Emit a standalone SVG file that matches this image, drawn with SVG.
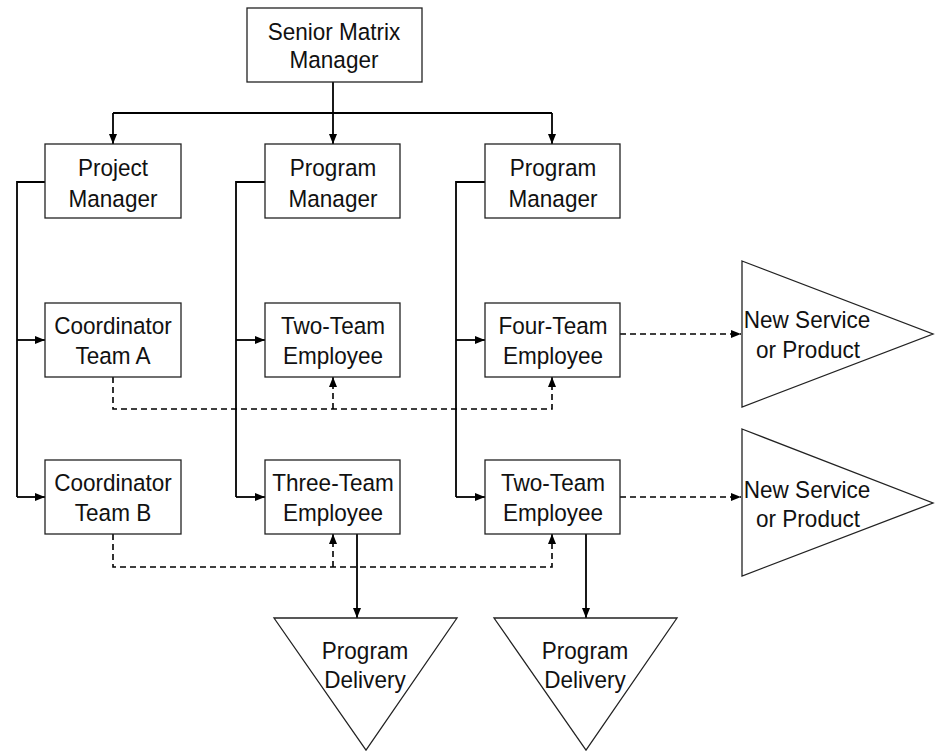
<svg xmlns="http://www.w3.org/2000/svg" width="939" height="752" viewBox="0 0 939 752">
  <style>
    .box { fill: #fff; stroke: #222; stroke-width: 1.3; }
    .tri { fill: #fff; stroke: #222; stroke-width: 1.3; }
    .lbl { font-family: "Liberation Sans", Arial, Helvetica, sans-serif; font-size: 24.5px; fill: #111; text-anchor: middle; }
    .solid { fill: none; stroke: #000; stroke-width: 1.8; }
    .dash { fill: none; stroke: #000; stroke-width: 1.6; stroke-dasharray: 6 4; }
  </style>
  <defs>
    <marker id="arrow" viewBox="0 0 10 8" refX="10" refY="4" markerWidth="10" markerHeight="8" markerUnits="userSpaceOnUse" orient="auto">
      <path d="M0,0 L10,4 L0,8 z" fill="#000"/>
    </marker>
  </defs>

  <!-- connectors -->
  <g id="connectors">
    <!-- senior manager to the three managers -->
    <path class="solid" d="M333,82 V113"/>
    <path class="solid" d="M113,113 H552"/>
    <path class="solid" d="M113,113 V144" marker-end="url(#arrow)"/>
    <path class="solid" d="M333,113 V144" marker-end="url(#arrow)"/>
    <path class="solid" d="M552,113 V144" marker-end="url(#arrow)"/>

    <!-- manager buses down to their reports -->
    <path class="solid" d="M45,182 H17 V497"/>
    <path class="solid" d="M17,340 H45" marker-end="url(#arrow)"/>
    <path class="solid" d="M17,497 H45" marker-end="url(#arrow)"/>

    <path class="solid" d="M265,182 H236 V497"/>
    <path class="solid" d="M236,340 H265" marker-end="url(#arrow)"/>
    <path class="solid" d="M236,497 H265" marker-end="url(#arrow)"/>

    <path class="solid" d="M485,182 H456 V497"/>
    <path class="solid" d="M456,340 H485" marker-end="url(#arrow)"/>
    <path class="solid" d="M456,497 H485" marker-end="url(#arrow)"/>

    <!-- coordinator team A links -->
    <path class="dash" d="M113,377 V409 H552 V377" marker-end="url(#arrow)"/>
    <path class="dash" d="M333,409 V377" marker-end="url(#arrow)"/>

    <!-- coordinator team B links -->
    <path class="dash" d="M113,534 V567 H552 V534" marker-end="url(#arrow)"/>
    <path class="dash" d="M333,567 V534" marker-end="url(#arrow)"/>

    <!-- employees to outputs -->
    <path class="dash" d="M620,334 H741" marker-end="url(#arrow)"/>
    <path class="dash" d="M620,497 H741" marker-end="url(#arrow)"/>
    <path class="solid" d="M357,534 V618" marker-end="url(#arrow)"/>
    <path class="solid" d="M586,534 V618" marker-end="url(#arrow)"/>
  </g>

  <g id="senior-matrix-manager">
    <rect class="box" x="247" y="8" width="175" height="74"/>
    <text class="lbl" transform="translate(334 40) scale(0.92 1)">Senior Matrix</text>
    <text class="lbl" transform="translate(334 68) scale(0.92 1)">Manager</text>
  </g>

  <g id="project-manager">
    <rect class="box" x="45" y="144" width="136" height="74"/>
    <text class="lbl" transform="translate(113 176) scale(0.92 1)">Project</text>
    <text class="lbl" transform="translate(113 207) scale(0.92 1)">Manager</text>
  </g>

  <g id="program-manager-1">
    <rect class="box" x="265" y="144" width="135" height="74"/>
    <text class="lbl" transform="translate(333 176) scale(0.92 1)">Program</text>
    <text class="lbl" transform="translate(333 207) scale(0.92 1)">Manager</text>
  </g>

  <g id="program-manager-2">
    <rect class="box" x="485" y="144" width="135" height="74"/>
    <text class="lbl" transform="translate(553 176) scale(0.92 1)">Program</text>
    <text class="lbl" transform="translate(553 207) scale(0.92 1)">Manager</text>
  </g>

  <g id="coordinator-team-a">
    <rect class="box" x="45" y="303" width="136" height="74"/>
    <text class="lbl" transform="translate(113 334) scale(0.92 1)">Coordinator</text>
    <text class="lbl" transform="translate(113 364) scale(0.92 1)">Team A</text>
  </g>

  <g id="two-team-employee-1">
    <rect class="box" x="265" y="303" width="135" height="74"/>
    <text class="lbl" transform="translate(333 334) scale(0.92 1)">Two-Team</text>
    <text class="lbl" transform="translate(333 364) scale(0.92 1)">Employee</text>
  </g>

  <g id="four-team-employee">
    <rect class="box" x="485" y="303" width="135" height="74"/>
    <text class="lbl" transform="translate(553 334) scale(0.92 1)">Four-Team</text>
    <text class="lbl" transform="translate(553 364) scale(0.92 1)">Employee</text>
  </g>

  <g id="coordinator-team-b">
    <rect class="box" x="45" y="460" width="136" height="74"/>
    <text class="lbl" transform="translate(113 491) scale(0.92 1)">Coordinator</text>
    <text class="lbl" transform="translate(113 521) scale(0.92 1)">Team B</text>
  </g>

  <g id="three-team-employee">
    <rect class="box" x="265" y="460" width="135" height="74"/>
    <text class="lbl" transform="translate(333 491) scale(0.92 1)">Three-Team</text>
    <text class="lbl" transform="translate(333 521) scale(0.92 1)">Employee</text>
  </g>

  <g id="two-team-employee-2">
    <rect class="box" x="485" y="460" width="135" height="74"/>
    <text class="lbl" transform="translate(553 491) scale(0.92 1)">Two-Team</text>
    <text class="lbl" transform="translate(553 521) scale(0.92 1)">Employee</text>
  </g>

  <g id="new-service-1">
    <polygon class="tri" points="742,261 933,334 742,407"/>
    <text class="lbl" transform="translate(807 328) scale(0.92 1)">New Service</text>
    <text class="lbl" transform="translate(808 358) scale(0.92 1)">or Product</text>
  </g>

  <g id="new-service-2">
    <polygon class="tri" points="742,429 933,503 742,576"/>
    <text class="lbl" transform="translate(807 498) scale(0.92 1)">New Service</text>
    <text class="lbl" transform="translate(808 527) scale(0.92 1)">or Product</text>
  </g>

  <g id="program-delivery-1">
    <polygon class="tri" points="274,618 457,618 366,750"/>
    <text class="lbl" transform="translate(365 659) scale(0.92 1)">Program</text>
    <text class="lbl" transform="translate(365 688) scale(0.92 1)">Delivery</text>
  </g>

  <g id="program-delivery-2">
    <polygon class="tri" points="494,618 677,618 586,750"/>
    <text class="lbl" transform="translate(585 659) scale(0.92 1)">Program</text>
    <text class="lbl" transform="translate(585 688) scale(0.92 1)">Delivery</text>
  </g>
</svg>
